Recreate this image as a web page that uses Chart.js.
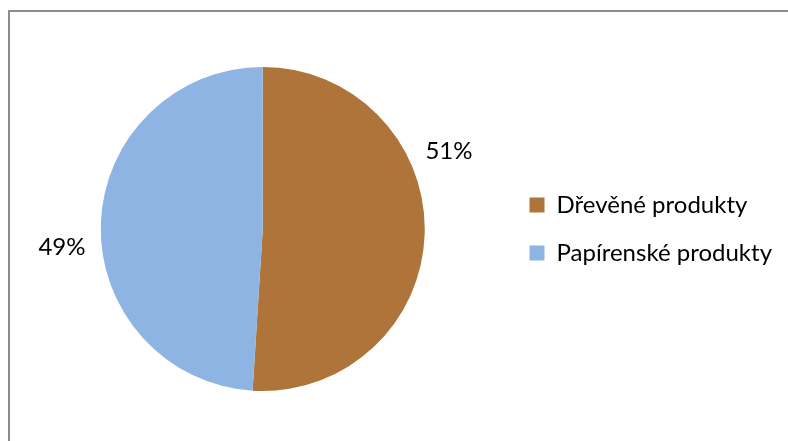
<!DOCTYPE html>
<html lang="cs">
<head>
  <meta charset="UTF-8" />
  <title>Podíl produktů</title>
  <script src="https://cdn.jsdelivr.net/npm/chart.js"></script>
  <style>
    html, body {
      margin: 0;
      padding: 0;
      background: #fff;
    }
    .wrap {
      position: relative;
      width: 788px;
      height: 441px;
    }
    .frame {
      position: absolute;
      left: 8px;
      top: 10px;
      right: 0;
      bottom: 0;
      border-top: 2px solid #8c8c8c;
      border-left: 2px solid #8c8c8c;
    }
    canvas {
      position: absolute;
      left: 0;
      top: 0;
    }
  </style>
</head>
<body>
  <div class="wrap">
    <div class="frame"></div>
    <canvas id="pie" width="788" height="441"></canvas>
  </div>

  <script>
    const categories = ["Dřevěné produkty", "Papírenské produkty"];
    const shares = [51, 49];
    const percentLabels = ["51%", "49%"];

    const colors = ["#ae7439", "#8eb4e3"];
    const labelAngles = [-22.6, 174.7]; // degrees, where Excel put the labels
    const fontFamily = "Lato, 'Open Sans', sans-serif";

    // percentage labels outside the slices
    const outsideLabels = {
      id: "outsideLabels",
      afterDatasetsDraw(chart) {
        const ctx = chart.ctx;
        const arcs = chart.getDatasetMeta(0).data;
        ctx.save();
        ctx.font = "24px " + fontFamily;
        ctx.fillStyle = "#000";
        ctx.textAlign = "center";
        ctx.textBaseline = "middle";
        arcs.forEach((arc, i) => {
          const a = labelAngles[i] * Math.PI / 180;
          const d = arc.outerRadius * 1.245;
          ctx.fillText(percentLabels[i], arc.x + Math.cos(a) * d, arc.y + Math.sin(a) * d);
        });
        ctx.restore();
      }
    };

    new Chart(document.getElementById("pie"), {
      type: "pie",
      data: {
        labels: categories,
        datasets: [{
          data: shares,
          backgroundColor: colors,
          borderWidth: 0
        }]
      },
      options: {
        responsive: false,
        animation: false,
        layout: {
          padding: { left: 20, top: 67, bottom: 50, right: 6 }
        },
        plugins: {
          tooltip: { enabled: false },
          legend: {
            position: "right",
            align: "center",
            labels: {
              color: "#000",
              boxWidth: 15,
              boxHeight: 15,
              padding: 24,
              font: { family: fontFamily, size: 24 }
            }
          }
        }
      },
      plugins: [outsideLabels]
    });
  </script>
</body>
</html>
